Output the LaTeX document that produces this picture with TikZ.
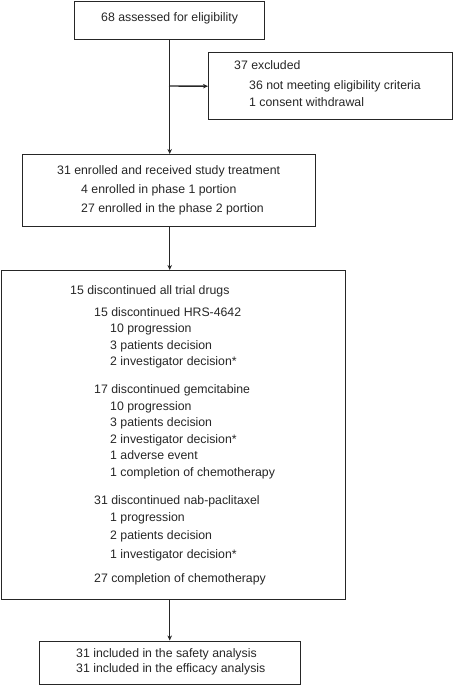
\documentclass[tikz,border=0pt]{standalone}
\usepackage{fontspec}
\setmainfont{Liberation Sans}
\usetikzlibrary{arrows.meta}

\begin{document}
\begin{tikzpicture}[x=1pt,y=-1pt,>={Stealth[length=5pt,width=4.5pt]},
  box/.style={draw=black!85,line width=1.4pt,inner sep=0pt,anchor=north west},
  link/.style={->,draw=black!85,line width=1.4pt},
  txt/.style={anchor=west,inner sep=0pt,text height=9pt,text depth=3pt,
    text=black!85,font=\fontsize{12.3}{14}\selectfont}]
  \useasboundingbox (0,0) rectangle (453,685);
  % boxes
  \node[box,minimum width=190pt,minimum height=38pt] (assess) at (74,0.7) {};
  \node[box,minimum width=243.5pt,minimum height=67pt] (excl) at (208,52) {};
  \node[box,minimum width=293pt,minimum height=72pt] (enrol) at (22,154) {};
  \node[box,minimum width=344pt,minimum height=329pt] (disc) at (0.7,270) {};
  \node[box,minimum width=261pt,minimum height=43.5pt] (anal) at (39,640.5) {};
  % texts
  \node[txt] (t1) at (101,19) {68 assessed for eligibility};
  \node[txt] (t2) at (234,67) {37 excluded};
  \node[txt] (t3) at (249,86) {36 not meeting eligibility criteria};
  \node[txt] (t4) at (249,103) {1 consent withdrawal};
  \node[txt] (t5) at (57,171) {31 enrolled and received study treatment};
  \node[txt] (t6) at (81,190) {4 enrolled in phase 1 portion};
  \node[txt] (t7) at (81,209) {27 enrolled in the phase 2 portion};
  \node[txt] (d0) at (70,291) {15 discontinued all trial drugs};
  \node[txt] (d1) at (94,313) {15 discontinued HRS-4642};
  \node[txt] (d2) at (110,329) {10 progression};
  \node[txt] (d3) at (110,346) {3 patients decision};
  \node[txt] (d4) at (110,362) {2 investigator decision*};
  \node[txt] (d5) at (94,390) {17 discontinued gemcitabine};
  \node[txt] (d6) at (110,407) {10 progression};
  \node[txt] (d7) at (110,423) {3 patients decision};
  \node[txt] (d8) at (110,440) {2 investigator decision*};
  \node[txt] (d9) at (110,456) {1 adverse event};
  \node[txt] (d10) at (110,473) {1 completion of chemotherapy};
  \node[txt] (d11) at (94,501) {31 discontinued nab-paclitaxel};
  \node[txt] (d12) at (110,518) {1 progression};
  \node[txt] (d13) at (110,536) {2 patients decision};
  \node[txt] (d14) at (110,555) {1 investigator decision*};
  \node[txt] (d15) at (94,579) {27 completion of chemotherapy};
  \node[txt] (t8) at (76,654) {31 included in the safety analysis};
  \node[txt] (t9) at (76,669) {31 included in the efficacy analysis};
  % arrows
  \coordinate (branch) at (169,86);
  \draw[link] (assess.south) -- (assess.south |- enrol.north);
  \draw[link] (branch) -- (excl.west);
  \draw[link] (assess.south |- enrol.south) -- (assess.south |- disc.north);
  \draw[link] (assess.south |- disc.south) -- (assess.south |- anal.north);
\end{tikzpicture}
\end{document}
